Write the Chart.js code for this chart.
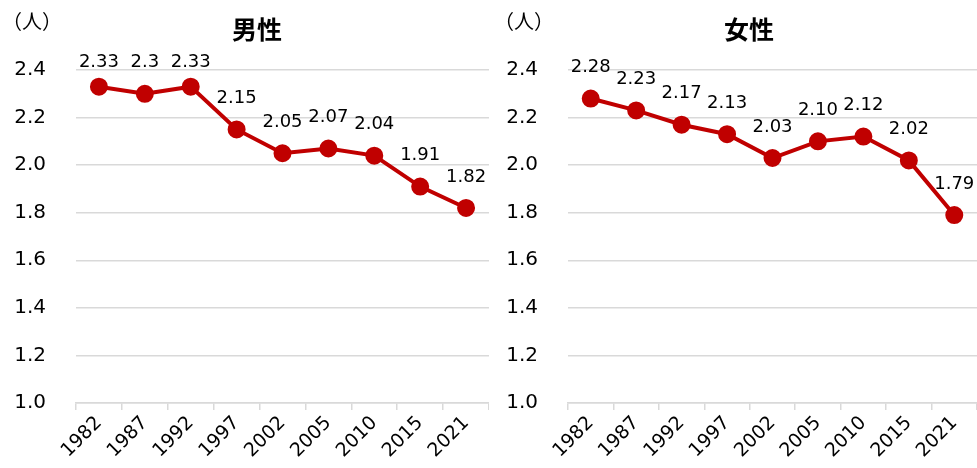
<!DOCTYPE html>
<html>
<head>
<meta charset="utf-8">
<script src="https://cdn.jsdelivr.net/npm/chart.js@4.4.1/dist/chart.umd.min.js"></script>
<style>
  html, body { margin: 0; padding: 0; background: #fff; }
  #wrap { position: relative; width: 977px; height: 468px; font-family: "DejaVu Sans", Verdana, sans-serif; }
  .box { position: absolute; top: 0; height: 468px; }
  .title { position: absolute; top: 10px; font: bold 25px "Noto Sans CJK JP", sans-serif; color: #000; }
  .unit { position: absolute; top: 6px; font: 20px "Noto Sans CJK JP", sans-serif; color: #000; }
</style>
</head>
<body>
<div id="wrap">
  <div class="box" style="left:0;width:489px"><canvas id="male"></canvas></div>
  <div class="box" style="left:489px;width:488px"><canvas id="female"></canvas></div>
  <div class="unit" style="left:2px">（人）</div>
  <div class="title" style="left:232px">男性</div>
  <div class="unit" style="left:494px">（人）</div>
  <div class="title" style="left:724px">女性</div>
</div>
<script>
const years = ["1982", "1987", "1992", "1997", "2002", "2005", "2010", "2015", "2021"];
const maleValues = [2.33, 2.3, 2.33, 2.15, 2.05, 2.07, 2.04, 1.91, 1.82];
const maleLabels = ["2.33", "2.3", "2.33", "2.15", "2.05", "2.07", "2.04", "1.91", "1.82"];
const femaleValues = [2.28, 2.23, 2.17, 2.13, 2.03, 2.10, 2.12, 2.02, 1.79];
const femaleLabels = ["2.28", "2.23", "2.17", "2.13", "2.03", "2.10", "2.12", "2.02", "1.79"];
const yMin = 1.0;
const yMax = 2.4;

const FONT = "'DejaVu Sans', Verdana, sans-serif";

// draws the value text above each point
const pointLabels = {
  id: "pointLabels",
  afterDatasetsDraw(chart) {
    const ctx = chart.ctx;
    const texts = chart.options.plugins.pointLabels.texts;
    const meta = chart.getDatasetMeta(0);
    ctx.save();
    ctx.font = "18px " + FONT;
    ctx.fillStyle = "#000";
    ctx.textAlign = "center";
    ctx.textBaseline = "middle";
    meta.data.forEach((pt, i) => {
      ctx.fillText(texts[i], pt.x, Math.max(pt.y - 31, 62));
    });
    ctx.restore();
  }
};

function makeChart(id, values, texts, axisWidth) {
  const ctx = document.getElementById(id);
  return new Chart(ctx, {
    type: "line",
    data: {
      labels: years,
      datasets: [{
        data: values,
        borderColor: "#C00000",
        backgroundColor: "#C00000",
        borderWidth: 4,
        pointRadius: 7,
        pointHoverRadius: 7,
        tension: 0,
        clip: false
      }]
    },
    options: {
      responsive: false,
      animation: false,
      layout: { autoPadding: false, padding: { top: 70, right: 0, bottom: 0, left: 0 } },
      plugins: {
        legend: { display: false },
        tooltip: { enabled: false },
        pointLabels: { texts }
      },
      scales: {
        x: {
          offset: true,
          grid: {
            offset: true,
            drawOnChartArea: false,
            drawTicks: true,
            tickLength: 7,
            color: "#d9d9d9",
            lineWidth: 1.5
          },
          border: { color: "#d9d9d9", width: 1.5 },
          ticks: {
            color: "#000",
            font: { family: FONT, size: 19 },
            minRotation: 45,
            maxRotation: 45,
            padding: 2
          },
          afterFit: s => {
            s.height = 65;
            s.paddingLeft = 0;
            s.paddingRight = 0;
          }
        },
        y: {
          min: yMin,
          max: yMax,
          grid: { color: "#d9d9d9", lineWidth: 1.5, drawTicks: false },
          border: { display: false },
          ticks: {
            stepSize: 0.2,
            color: "#000",
            font: { family: FONT, size: 20 },
            padding: 30,
            callback: v => v.toFixed(1)
          },
          afterFit: s => {
            s.width = axisWidth;
            s.paddingTop = 0;
            s.paddingBottom = 0;
          }
        }
      }
    },
    plugins: [pointLabels]
  });
}

document.getElementById("male").width = 489;
document.getElementById("male").height = 468;
document.getElementById("female").width = 488;
document.getElementById("female").height = 468;

makeChart("male", maleValues, maleLabels, 76);
makeChart("female", femaleValues, femaleLabels, 79);
</script>
</body>
</html>
